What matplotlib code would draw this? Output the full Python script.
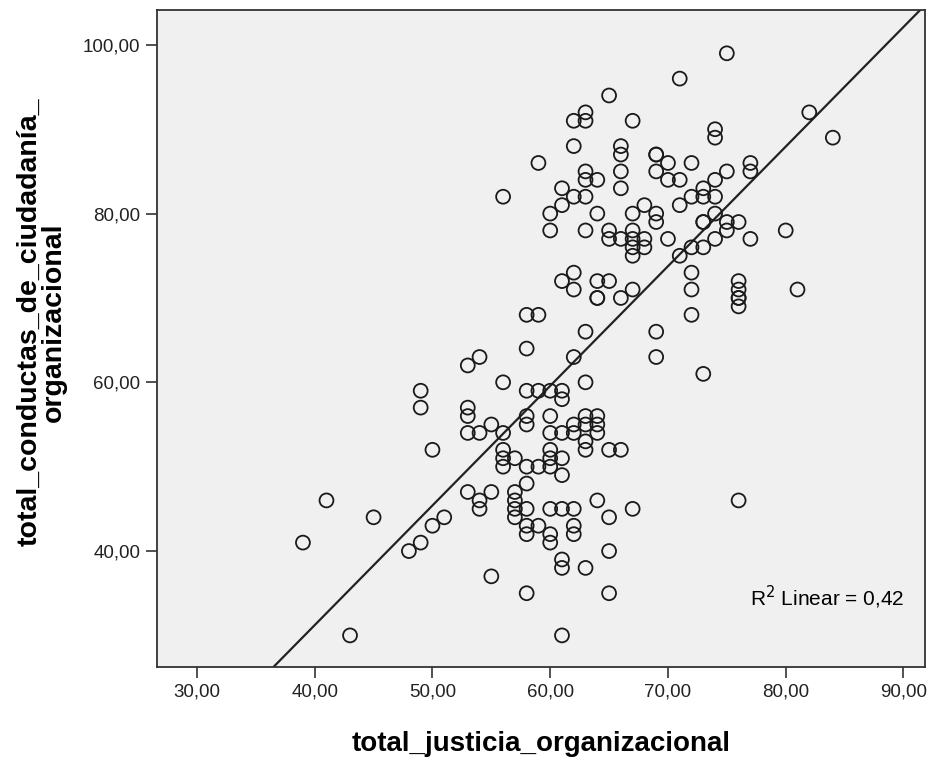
import numpy as np
import matplotlib
matplotlib.use("Agg")
import matplotlib.pyplot as plt
from matplotlib.ticker import FuncFormatter

# total_justicia_organizacional (x) vs total_conductas_de_ciudadania (y)
justicia = [
    75, 71, 65, 82, 63, 63, 62, 67, 84, 74, 74, 62, 66, 66, 69, 69, 59, 70, 72, 77,
    77, 63, 63, 64, 66, 69, 75, 70, 71, 74, 61, 66, 73, 56, 62, 63, 72, 73, 74, 61,
    68, 71, 60, 64, 67, 69, 74, 69, 73, 73, 75, 76, 60, 63, 65, 67, 75, 80, 65, 66,
    67, 68, 70, 74, 77, 67, 68, 72, 73, 67, 71,
    62, 72, 61, 64, 65, 76, 62, 67, 72, 76, 81, 64, 64, 66, 76, 76, 76, 58, 59, 72,
    63, 69, 58, 54, 62, 69, 53, 73, 56, 63,
    49, 58, 59, 60, 61, 61, 49, 53, 53, 58, 60, 63, 64, 55, 58, 62, 63, 64, 53, 54,
    56, 60, 61, 62, 64, 63, 50, 56, 60, 63, 65, 66, 56, 57, 60, 61, 56, 58, 59, 60,
    61, 58, 53, 55, 57, 41, 54, 57, 64, 76, 54, 57, 58, 60, 61, 62, 67, 45, 51, 57,
    65, 50, 58, 59, 62, 58, 60, 62, 39, 49, 60, 48, 65, 61, 61, 63, 55, 58, 65, 43,
    61,
]
conductas = [
    99, 96, 94, 92, 92, 91, 91, 91, 89, 90, 89, 88, 88, 87, 87, 87, 86, 86, 86, 86,
    85, 85, 84, 84, 85, 85, 85, 84, 84, 84, 83, 83, 83, 82, 82, 82, 82, 82, 82, 81,
    81, 81, 80, 80, 80, 80, 80, 79, 79, 79, 79, 79, 78, 78, 78, 78, 78, 78, 77, 77,
    77, 77, 77, 77, 77, 76, 76, 76, 76, 75, 75,
    73, 73, 72, 72, 72, 72, 71, 71, 71, 71, 71, 70, 70, 70, 70, 70, 69, 68, 68, 68,
    66, 66, 64, 63, 63, 63, 62, 61, 60, 60,
    59, 59, 59, 59, 59, 58, 57, 57, 56, 56, 56, 56, 56, 55, 55, 55, 55, 55, 54, 54,
    54, 54, 54, 54, 54, 53, 52, 52, 52, 52, 52, 52, 51, 51, 51, 51, 50, 50, 50, 50,
    49, 48, 47, 47, 47, 46, 46, 46, 46, 46, 45, 45, 45, 45, 45, 45, 45, 44, 44, 44,
    44, 43, 43, 43, 43, 42, 42, 42, 41, 41, 41, 40, 40, 39, 38, 38, 37, 35, 35, 30,
    30,
]

# linear fit as reported with the chart
fit_slope = 1.418
fit_intercept = -25.5
r2_label = 0.42


def coma(v, pos):
    return f"{v:.2f}".replace(".", ",")


fig = plt.figure(figsize=(9.34, 7.58), dpi=100)
ax = fig.add_axes([0.168, 0.12, 0.822, 0.867])
ax.set_facecolor("#f0f0f0")

ax.scatter(justicia, conductas, s=100, facecolors="none", edgecolors="#1a1a1a",
           linewidths=1.3, zorder=3)

ax.set_xlim(26.6, 91.8)
ax.set_ylim(26.25, 104.15)
xl = np.array(ax.get_xlim())
ax.plot(xl, fit_slope * xl + fit_intercept, color="#222222", lw=1.6, zorder=2)

ax.set_xticks([30, 40, 50, 60, 70, 80, 90])
ax.set_yticks([40, 60, 80, 100])
ax.xaxis.set_major_formatter(FuncFormatter(coma))
ax.yaxis.set_major_formatter(FuncFormatter(coma))
ax.tick_params(direction="out", length=8, width=1.2, color="#333333",
               labelsize=13.5, labelcolor="#222222", pad=4)
for lab in ax.get_xticklabels() + ax.get_yticklabels():
    lab.set_family("Liberation Sans")

for sp in ax.spines.values():
    sp.set_color("#333333")
    sp.set_linewidth(1.3)

ax.set_xlabel("total_justicia_organizacional", fontsize=20, fontweight="bold",
              family="Liberation Sans", labelpad=22)
ax.set_ylabel("total_conductas_de_ciudadanía_\norganizacional", fontsize=20.5,
              fontweight="bold", family="Liberation Sans",
              linespacing=0.95)
ax.yaxis.set_label_coords(-0.117, 0.525)

ax.text(77.0, 34.5, "R$^2$ Linear = " + f"{r2_label:.2f}".replace(".", ","),
        fontsize=15, family="Liberation Sans", va="center", ha="left")

fig.savefig("out.png", dpi=100)
